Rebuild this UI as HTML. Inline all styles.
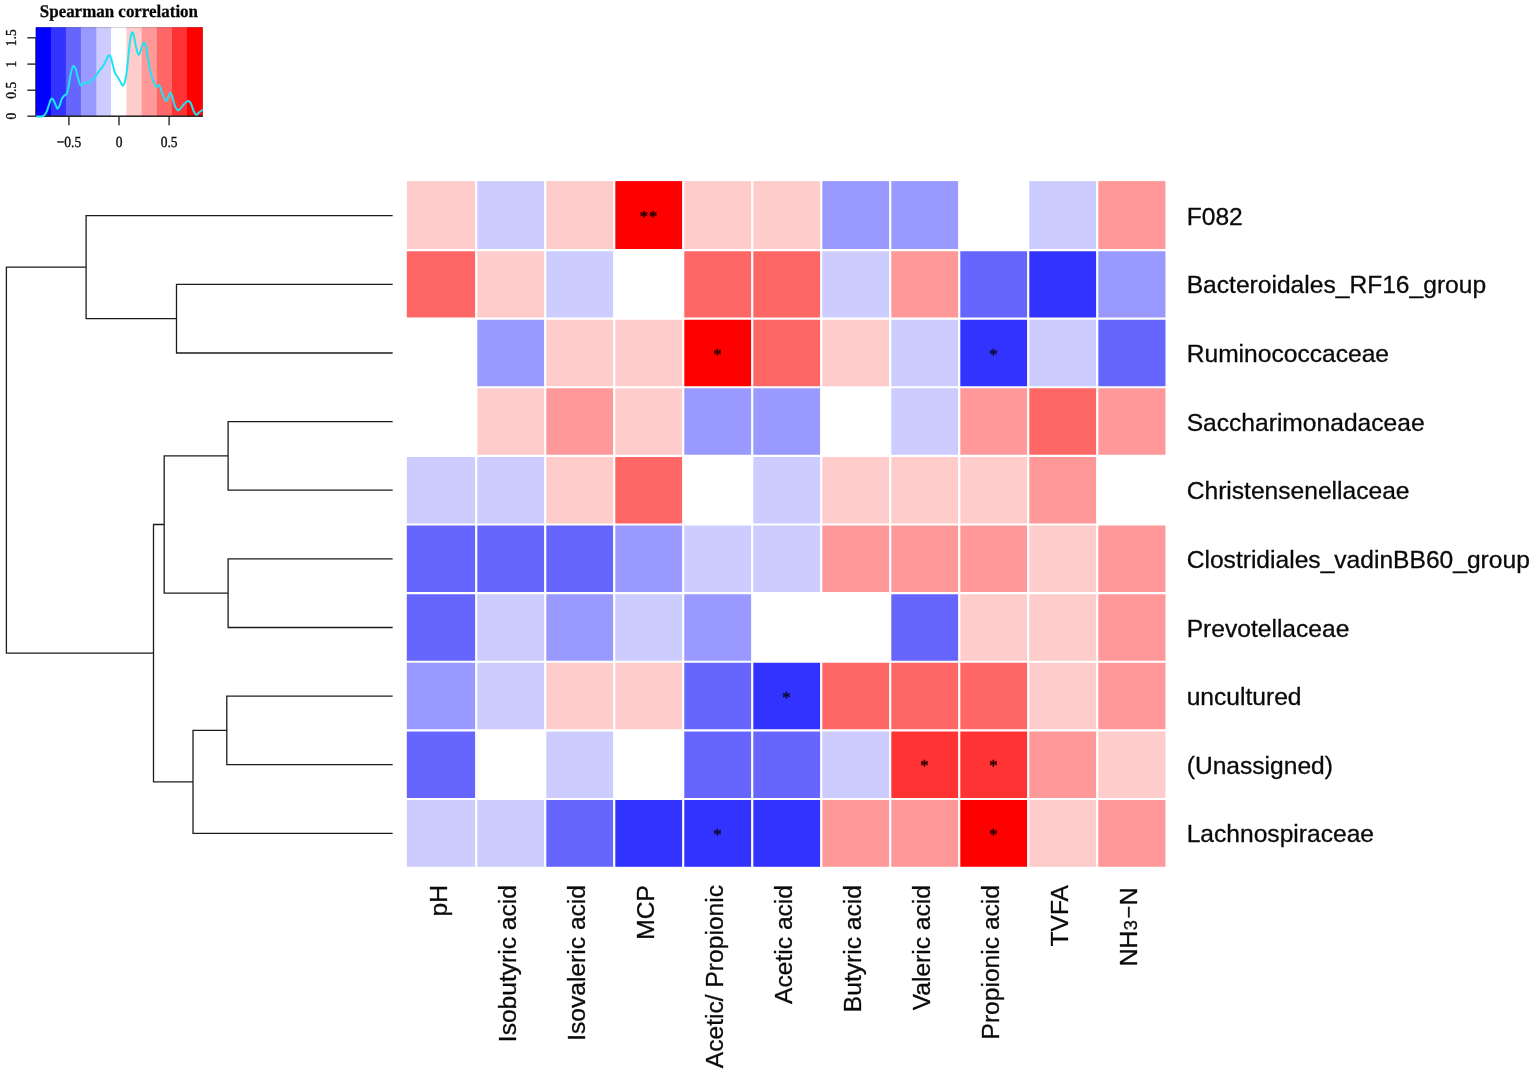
<!DOCTYPE html>
<html lang="en"><head><meta charset="utf-8"><title>Spearman correlation heatmap</title>
<style>html,body{margin:0;padding:0;background:#fff}body{width:1535px;height:1075px;overflow:hidden}svg{display:block}.rl{font-family:"Liberation Sans",Arial,sans-serif;font-size:24.6px;fill:#0a0a0a;stroke:#0a0a0a;stroke-width:.3}.cl{font-family:"Liberation Sans",Arial,sans-serif;font-size:24.6px;fill:#0a0a0a;stroke:#0a0a0a;stroke-width:.3}.st{font-family:"Liberation Serif","Times New Roman",serif;font-size:16.5px;stroke-width:.55;text-anchor:middle}.kt{font-family:"Liberation Serif","Times New Roman",serif;font-weight:bold;font-size:16.95px;fill:#050505;stroke:#050505;stroke-width:.25;text-anchor:middle}.ka{font-family:"Liberation Serif","Times New Roman",serif;font-size:13.5px;fill:#0a0a0a;stroke:#0a0a0a;stroke-width:.3;text-anchor:middle}.dn{fill:none;stroke:#1c1c1c;stroke-width:1.3;stroke-linecap:square;stroke-linejoin:miter}</style></head><body>
<svg width="1535" height="1075" viewBox="0 0 1535 1075">
<rect x="0" y="0" width="1535" height="1075" fill="#ffffff"/>
<g id="key">
<rect x="35.70" y="27.20" width="15.50" height="89.00" fill="#0000FF"/>
<rect x="50.90" y="27.20" width="15.30" height="89.00" fill="#3333FF"/>
<rect x="65.90" y="27.20" width="15.30" height="89.00" fill="#6666FF"/>
<rect x="80.90" y="27.20" width="15.90" height="89.00" fill="#9999FF"/>
<rect x="96.50" y="27.20" width="14.90" height="89.00" fill="#CCCCFF"/>
<rect x="111.10" y="27.20" width="15.60" height="89.00" fill="#FFFFFF"/>
<rect x="126.40" y="27.20" width="15.60" height="89.00" fill="#FFCCCC"/>
<rect x="141.70" y="27.20" width="15.50" height="89.00" fill="#FF9999"/>
<rect x="156.90" y="27.20" width="15.40" height="89.00" fill="#FF6666"/>
<rect x="172.00" y="27.20" width="15.30" height="89.00" fill="#FF3333"/>
<rect x="187.00" y="27.20" width="15.80" height="89.00" fill="#FF0000"/>
<rect x="36.1" y="27.6" width="166.3" height="88.2" fill="none" stroke="#000" stroke-opacity=".2" stroke-width=".9"/>
<g stroke="#2a2a2a" stroke-width="1.4" fill="none">
<path d="M35.7 116.2H202.8"/>
<path d="M68.9 116.2V125.3"/>
<path d="M119.0 116.2V125.3"/>
<path d="M169.1 116.2V125.3"/>
</g>
<path d="M35.9 116.4C37.3 116.4 40.7 116.9 42.7 116.2C44.7 115.5 44.9 114.9 46.1 112.8C47.3 110.7 47.7 108.4 48.6 105.9C49.5 103.4 49.8 101.6 50.5 100.1C51.2 98.6 51.5 98.2 52.3 98.6C53.1 99.0 53.6 100.3 54.4 102.0C55.2 103.7 55.7 105.6 56.4 106.9C57.1 108.2 57.1 108.8 57.8 108.4C58.5 108.0 59.0 106.9 59.8 105.0C60.6 103.1 60.8 101.0 61.7 99.1C62.6 97.2 63.2 96.8 64.2 95.7C65.2 94.6 65.7 95.6 66.6 93.7C67.5 91.8 67.8 90.2 68.6 86.4C69.4 82.6 69.7 78.5 70.5 74.7C71.3 70.9 71.8 69.1 72.5 67.4C73.2 65.7 73.3 65.8 73.9 66.1C74.5 66.4 75.0 66.9 75.7 68.8C76.4 70.7 76.7 73.0 77.4 75.7C78.1 78.4 78.6 80.5 79.3 82.5C80.0 84.5 80.2 85.4 81.0 85.6C81.8 85.8 82.4 84.1 83.2 83.5C84.0 82.9 84.2 82.6 85.2 82.5C86.2 82.4 86.8 83.2 88.1 82.8C89.4 82.4 90.0 81.7 91.5 80.5C93.0 79.3 93.8 78.5 95.4 76.6C97.0 74.7 97.7 72.9 99.3 70.8C100.9 68.7 101.8 68.1 103.2 65.9C104.6 63.7 105.2 62.0 106.2 60.0C107.2 58.0 107.4 57.0 108.1 56.1C108.8 55.2 109.0 55.0 109.6 55.4C110.2 55.8 110.5 56.5 111.1 58.1C111.7 59.7 111.8 60.9 112.5 63.6C113.2 66.3 113.6 69.1 114.6 71.8C115.6 74.5 116.5 75.0 117.6 76.9C118.7 78.8 119.4 79.9 120.3 81.5C121.2 83.1 121.5 84.0 122.0 84.8C122.5 85.6 122.4 86.1 123.0 85.6C123.6 85.1 124.1 84.9 124.8 82.3C125.5 79.7 125.9 78.0 126.6 72.7C127.3 67.4 127.7 62.1 128.4 55.6C129.1 49.1 129.6 44.4 130.2 40.0C130.8 35.6 131.1 35.2 131.6 33.6C132.1 32.0 132.1 32.2 132.5 32.2C132.9 32.2 133.0 32.5 133.4 33.8C133.8 35.1 133.8 35.7 134.4 38.6C135.0 41.5 135.6 45.1 136.4 48.3C137.2 51.5 137.7 54.3 138.6 54.7C139.5 55.1 140.0 52.4 140.8 50.3C141.6 48.2 142.0 45.9 142.7 44.4C143.4 42.9 143.7 42.3 144.4 42.9C145.1 43.5 145.4 44.1 146.1 47.3C146.8 50.5 147.3 54.6 148.1 59.1C148.9 63.6 149.1 65.9 150.0 69.8C150.9 73.7 151.5 75.7 152.5 78.6C153.5 81.5 154.0 82.8 154.9 84.5C155.8 86.2 156.0 86.8 156.9 86.9C157.8 87.0 158.4 84.5 159.3 85.2C160.2 85.9 160.4 87.9 161.3 90.3C162.2 92.7 162.7 94.9 163.7 97.1C164.7 99.3 165.2 101.3 166.2 101.1C167.2 100.9 167.7 97.9 168.6 96.2C169.5 94.5 169.7 92.6 170.5 92.8C171.3 93.0 171.6 94.5 172.5 97.1C173.4 99.7 173.8 103.3 174.9 105.9C176.0 108.5 176.6 110.0 177.9 110.3C179.2 110.6 179.8 108.9 181.3 107.4C182.8 105.9 183.7 104.3 185.2 103.0C186.7 101.7 187.4 100.7 188.6 100.9C189.8 101.1 190.0 101.8 191.1 104.0C192.2 106.2 192.9 109.7 194.0 111.8C195.1 113.9 195.3 114.6 196.4 114.7C197.5 114.8 198.1 113.3 199.4 112.3C200.7 111.3 202.1 110.3 202.8 109.8" fill="none" stroke="#1FE3F3" stroke-width="2" stroke-linejoin="round" stroke-linecap="butt"/>
<g stroke="#2a2a2a" stroke-width="1.4" fill="none">
<path d="M35.6 116.9V37.8" stroke-width="1" stroke-opacity=".75"/>
<path d="M27.3 37.8H35.9"/>
<path d="M27.3 64.1H35.9"/>
<path d="M27.3 90.2H35.9"/>
<path d="M27.3 116.2H35.9"/>
</g>
<text class="kt" text-rendering="geometricPrecision" transform="translate(118.9 16.9) scale(1 1.05)">Spearman correlation</text>
<text class="ka" text-rendering="geometricPrecision" transform="translate(68.9 146.7) scale(1 1.14)">−0.5</text>
<text class="ka" text-rendering="geometricPrecision" transform="translate(119.0 146.7) scale(1 1.14)">0</text>
<text class="ka" text-rendering="geometricPrecision" transform="translate(169.1 146.7) scale(1 1.14)">0.5</text>
<text class="ka" transform="translate(15.9 116.2) rotate(-90) scale(1 1.14)">0</text>
<text class="ka" transform="translate(15.9 90.2) rotate(-90) scale(1 1.14)">0.5</text>
<text class="ka" transform="translate(15.9 64.1) rotate(-90) scale(1 1.14)">1</text>
<text class="ka" transform="translate(15.9 37.8) rotate(-90) scale(1 1.14)">1.5</text>
</g>
<path class="dn" d="M392.0 215.7H86.1V318.6H176.5M392.0 284.3H176.5V353.0H392.0M86.1 267.2H6.4V653.2H153.5M392.0 421.6H228.1V490.2H392.0M392.0 558.8H228.1V627.5H392.0M228.1 455.9H164.2V593.1H228.1M164.2 524.5H153.5V781.9H193.0M392.0 696.1H226.8V764.7H392.0M226.8 730.4H193.0V833.3H392.0"/>
<g id="heat">
<rect x="406.80" y="181.10" width="69.40" height="68.93" fill="#FFCCCC"/>
<rect x="476.20" y="181.10" width="69.00" height="68.93" fill="#CCCCFF"/>
<rect x="545.20" y="181.10" width="69.00" height="68.93" fill="#FFCCCC"/>
<rect x="614.20" y="181.10" width="69.00" height="68.93" fill="#FF0000"/>
<rect x="683.20" y="181.10" width="69.00" height="68.93" fill="#FFCCCC"/>
<rect x="752.20" y="181.10" width="69.00" height="68.93" fill="#FFCCCC"/>
<rect x="821.20" y="181.10" width="69.00" height="68.93" fill="#9999FF"/>
<rect x="890.20" y="181.10" width="69.00" height="68.93" fill="#9999FF"/>
<rect x="1028.20" y="181.10" width="69.00" height="68.93" fill="#CCCCFF"/>
<rect x="1097.20" y="181.10" width="68.30" height="68.93" fill="#FF9999"/>
<rect x="406.80" y="250.03" width="69.40" height="68.62" fill="#FF6666"/>
<rect x="476.20" y="250.03" width="69.00" height="68.62" fill="#FFCCCC"/>
<rect x="545.20" y="250.03" width="69.00" height="68.62" fill="#CCCCFF"/>
<rect x="683.20" y="250.03" width="69.00" height="68.62" fill="#FF6666"/>
<rect x="752.20" y="250.03" width="69.00" height="68.62" fill="#FF6666"/>
<rect x="821.20" y="250.03" width="69.00" height="68.62" fill="#CCCCFF"/>
<rect x="890.20" y="250.03" width="69.00" height="68.62" fill="#FF9999"/>
<rect x="959.20" y="250.03" width="69.00" height="68.62" fill="#6666FF"/>
<rect x="1028.20" y="250.03" width="69.00" height="68.62" fill="#3333FF"/>
<rect x="1097.20" y="250.03" width="68.30" height="68.62" fill="#9999FF"/>
<rect x="476.20" y="318.65" width="69.00" height="68.62" fill="#9999FF"/>
<rect x="545.20" y="318.65" width="69.00" height="68.62" fill="#FFCCCC"/>
<rect x="614.20" y="318.65" width="69.00" height="68.62" fill="#FFCCCC"/>
<rect x="683.20" y="318.65" width="69.00" height="68.62" fill="#FF0000"/>
<rect x="752.20" y="318.65" width="69.00" height="68.62" fill="#FF6666"/>
<rect x="821.20" y="318.65" width="69.00" height="68.62" fill="#FFCCCC"/>
<rect x="890.20" y="318.65" width="69.00" height="68.62" fill="#CCCCFF"/>
<rect x="959.20" y="318.65" width="69.00" height="68.62" fill="#3333FF"/>
<rect x="1028.20" y="318.65" width="69.00" height="68.62" fill="#CCCCFF"/>
<rect x="1097.20" y="318.65" width="68.30" height="68.62" fill="#6666FF"/>
<rect x="476.20" y="387.27" width="69.00" height="68.62" fill="#FFCCCC"/>
<rect x="545.20" y="387.27" width="69.00" height="68.62" fill="#FF9999"/>
<rect x="614.20" y="387.27" width="69.00" height="68.62" fill="#FFCCCC"/>
<rect x="683.20" y="387.27" width="69.00" height="68.62" fill="#9999FF"/>
<rect x="752.20" y="387.27" width="69.00" height="68.62" fill="#9999FF"/>
<rect x="890.20" y="387.27" width="69.00" height="68.62" fill="#CCCCFF"/>
<rect x="959.20" y="387.27" width="69.00" height="68.62" fill="#FF9999"/>
<rect x="1028.20" y="387.27" width="69.00" height="68.62" fill="#FF6666"/>
<rect x="1097.20" y="387.27" width="68.30" height="68.62" fill="#FF9999"/>
<rect x="406.80" y="455.90" width="69.40" height="68.62" fill="#CCCCFF"/>
<rect x="476.20" y="455.90" width="69.00" height="68.62" fill="#CCCCFF"/>
<rect x="545.20" y="455.90" width="69.00" height="68.62" fill="#FFCCCC"/>
<rect x="614.20" y="455.90" width="69.00" height="68.62" fill="#FF6666"/>
<rect x="752.20" y="455.90" width="69.00" height="68.62" fill="#CCCCFF"/>
<rect x="821.20" y="455.90" width="69.00" height="68.62" fill="#FFCCCC"/>
<rect x="890.20" y="455.90" width="69.00" height="68.62" fill="#FFCCCC"/>
<rect x="959.20" y="455.90" width="69.00" height="68.62" fill="#FFCCCC"/>
<rect x="1028.20" y="455.90" width="69.00" height="68.62" fill="#FF9999"/>
<rect x="406.80" y="524.52" width="69.40" height="68.62" fill="#6666FF"/>
<rect x="476.20" y="524.52" width="69.00" height="68.62" fill="#6666FF"/>
<rect x="545.20" y="524.52" width="69.00" height="68.62" fill="#6666FF"/>
<rect x="614.20" y="524.52" width="69.00" height="68.62" fill="#9999FF"/>
<rect x="683.20" y="524.52" width="69.00" height="68.62" fill="#CCCCFF"/>
<rect x="752.20" y="524.52" width="69.00" height="68.62" fill="#CCCCFF"/>
<rect x="821.20" y="524.52" width="69.00" height="68.62" fill="#FF9999"/>
<rect x="890.20" y="524.52" width="69.00" height="68.62" fill="#FF9999"/>
<rect x="959.20" y="524.52" width="69.00" height="68.62" fill="#FF9999"/>
<rect x="1028.20" y="524.52" width="69.00" height="68.62" fill="#FFCCCC"/>
<rect x="1097.20" y="524.52" width="68.30" height="68.62" fill="#FF9999"/>
<rect x="406.80" y="593.15" width="69.40" height="68.62" fill="#6666FF"/>
<rect x="476.20" y="593.15" width="69.00" height="68.62" fill="#CCCCFF"/>
<rect x="545.20" y="593.15" width="69.00" height="68.62" fill="#9999FF"/>
<rect x="614.20" y="593.15" width="69.00" height="68.62" fill="#CCCCFF"/>
<rect x="683.20" y="593.15" width="69.00" height="68.62" fill="#9999FF"/>
<rect x="890.20" y="593.15" width="69.00" height="68.62" fill="#6666FF"/>
<rect x="959.20" y="593.15" width="69.00" height="68.62" fill="#FFCCCC"/>
<rect x="1028.20" y="593.15" width="69.00" height="68.62" fill="#FFCCCC"/>
<rect x="1097.20" y="593.15" width="68.30" height="68.62" fill="#FF9999"/>
<rect x="406.80" y="661.77" width="69.40" height="68.62" fill="#9999FF"/>
<rect x="476.20" y="661.77" width="69.00" height="68.62" fill="#CCCCFF"/>
<rect x="545.20" y="661.77" width="69.00" height="68.62" fill="#FFCCCC"/>
<rect x="614.20" y="661.77" width="69.00" height="68.62" fill="#FFCCCC"/>
<rect x="683.20" y="661.77" width="69.00" height="68.62" fill="#6666FF"/>
<rect x="752.20" y="661.77" width="69.00" height="68.62" fill="#3333FF"/>
<rect x="821.20" y="661.77" width="69.00" height="68.62" fill="#FF6666"/>
<rect x="890.20" y="661.77" width="69.00" height="68.62" fill="#FF6666"/>
<rect x="959.20" y="661.77" width="69.00" height="68.62" fill="#FF6666"/>
<rect x="1028.20" y="661.77" width="69.00" height="68.62" fill="#FFCCCC"/>
<rect x="1097.20" y="661.77" width="68.30" height="68.62" fill="#FF9999"/>
<rect x="406.80" y="730.40" width="69.40" height="68.62" fill="#6666FF"/>
<rect x="545.20" y="730.40" width="69.00" height="68.62" fill="#CCCCFF"/>
<rect x="683.20" y="730.40" width="69.00" height="68.62" fill="#6666FF"/>
<rect x="752.20" y="730.40" width="69.00" height="68.62" fill="#6666FF"/>
<rect x="821.20" y="730.40" width="69.00" height="68.62" fill="#CCCCFF"/>
<rect x="890.20" y="730.40" width="69.00" height="68.62" fill="#FF3333"/>
<rect x="959.20" y="730.40" width="69.00" height="68.62" fill="#FF3333"/>
<rect x="1028.20" y="730.40" width="69.00" height="68.62" fill="#FF9999"/>
<rect x="1097.20" y="730.40" width="68.30" height="68.62" fill="#FFCCCC"/>
<rect x="406.80" y="799.02" width="69.40" height="67.77" fill="#CCCCFF"/>
<rect x="476.20" y="799.02" width="69.00" height="67.77" fill="#CCCCFF"/>
<rect x="545.20" y="799.02" width="69.00" height="67.77" fill="#6666FF"/>
<rect x="614.20" y="799.02" width="69.00" height="67.77" fill="#3333FF"/>
<rect x="683.20" y="799.02" width="69.00" height="67.77" fill="#3333FF"/>
<rect x="752.20" y="799.02" width="69.00" height="67.77" fill="#3333FF"/>
<rect x="821.20" y="799.02" width="69.00" height="67.77" fill="#FF9999"/>
<rect x="890.20" y="799.02" width="69.00" height="67.77" fill="#FF9999"/>
<rect x="959.20" y="799.02" width="69.00" height="67.77" fill="#FF0000"/>
<rect x="1028.20" y="799.02" width="69.00" height="67.77" fill="#FFCCCC"/>
<rect x="1097.20" y="799.02" width="68.30" height="67.77" fill="#FF9999"/>
<path d="M476.20 180.10V867.80M545.20 180.10V867.80M614.20 180.10V867.80M683.20 180.10V867.80M752.20 180.10V867.80M821.20 180.10V867.80M890.20 180.10V867.80M959.20 180.10V867.80M1028.20 180.10V867.80M1097.20 180.10V867.80M405.80 250.03H1166.50M405.80 318.65H1166.50M405.80 387.27H1166.50M405.80 455.90H1166.50M405.80 524.52H1166.50M405.80 593.15H1166.50M405.80 661.77H1166.50M405.80 730.40H1166.50M405.80 799.02H1166.50" stroke="#fff" stroke-width="2.2" fill="none"/>
<text class="st" fill="#2a0000" stroke="#2a0000" y="222.4"><tspan x="643.8">*</tspan><tspan x="653.1">*</tspan></text>
<text class="st" fill="#2a0000" stroke="#2a0000" x="717.4" y="359.7">*</text>
<text class="st" fill="#0c0c30" stroke="#0c0c30" x="993.4" y="359.7">*</text>
<text class="st" fill="#0c0c30" stroke="#0c0c30" x="786.4" y="702.8">*</text>
<text class="st" fill="#2a0000" stroke="#2a0000" x="924.4" y="771.4">*</text>
<text class="st" fill="#2a0000" stroke="#2a0000" x="993.4" y="771.4">*</text>
<text class="st" fill="#0c0c30" stroke="#0c0c30" x="717.4" y="840.0">*</text>
<text class="st" fill="#2a0000" stroke="#2a0000" x="993.4" y="840.0">*</text>
</g>
<text class="rl" x="1186.7" y="224.7">F082</text>
<text class="rl" x="1186.7" y="293.3">Bacteroidales_RF16_group</text>
<text class="rl" x="1186.7" y="362.0">Ruminococcaceae</text>
<text class="rl" x="1186.7" y="430.6">Saccharimonadaceae</text>
<text class="rl" x="1186.7" y="499.2">Christensenellaceae</text>
<text class="rl" x="1186.7" y="567.8">Clostridiales_vadinBB60_group</text>
<text class="rl" x="1186.7" y="636.5">Prevotellaceae</text>
<text class="rl" x="1186.7" y="705.1">uncultured</text>
<text class="rl" x="1186.7" y="773.7">(Unassigned)</text>
<text class="rl" x="1186.7" y="842.3">Lachnospiraceae</text>
<text class="cl" text-anchor="end" transform="translate(447.1 885.0) rotate(-90)">pH</text>
<text class="cl" text-anchor="end" transform="translate(516.1 885.0) rotate(-90)">Isobutyric acid</text>
<text class="cl" text-anchor="end" transform="translate(585.1 885.0) rotate(-90)">Isovaleric acid</text>
<text class="cl" text-anchor="end" transform="translate(654.1 885.0) rotate(-90)">MCP</text>
<text class="cl" text-anchor="end" transform="translate(723.1 885.0) rotate(-90)">Acetic/ Propionic</text>
<text class="cl" text-anchor="end" transform="translate(792.1 885.0) rotate(-90)">Acetic acid</text>
<text class="cl" text-anchor="end" transform="translate(861.1 885.0) rotate(-90)">Butyric acid</text>
<text class="cl" text-anchor="end" transform="translate(930.1 885.0) rotate(-90)">Valeric acid</text>
<text class="cl" text-anchor="end" transform="translate(999.1 885.0) rotate(-90)">Propionic acid</text>
<text class="cl" text-anchor="end" transform="translate(1068.1 885.0) rotate(-90)">TVFA</text>
<text class="cl" transform="translate(1136.9 0) rotate(-90)"><tspan x="-966.2" y="0">NH</tspan><tspan x="-930.2" y="0.2" font-size="18.2px">3</tspan><tspan x="-912.2" y="-1.4" font-size="21.5px" text-anchor="middle">−</tspan><tspan x="-905.3" y="0">N</tspan></text>
</svg></body></html>
